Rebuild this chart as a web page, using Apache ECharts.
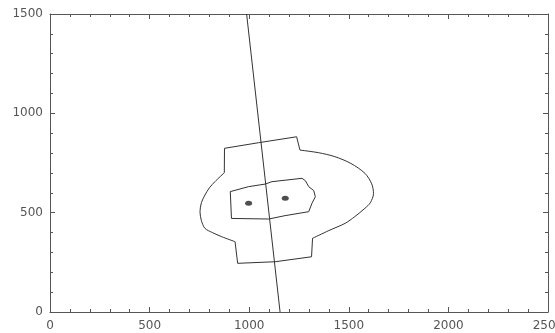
<!DOCTYPE html>
<html>
<head>
<meta charset="utf-8">
<script src="https://cdn.jsdelivr.net/npm/echarts@6/dist/echarts.min.js"></script>
<style>
html,body{margin:0;padding:0;background:#fff;}
#c{width:555px;height:333px;filter:blur(0.5px);}
</style>
</head>
<body>
<div id="c"></div>
<script>
// Axis ranges / ticks
var xTicks = [0, 500, 1000, 1500, 2000, 2500];
var yTicks = [0, 500, 1000, 1500];

// Straight cut line
var cutLine = [[987, 1500], [1155, 0]];

// Outer contour: stepped parts and elliptical arcs
var outerTopStep = [[875, 701], [876, 824], [1046, 852], [1238, 882], [1255, 815]];
var outerRightArc = [[1255, 815], [1347, 802], [1430, 782], [1510, 748], [1581, 698], [1615, 645], [1624, 596], [1608, 550], [1581, 522], [1530, 480], [1481, 446], [1400, 410], [1318, 371]];
var outerBottomStep = [[1318, 371], [1313, 278], [1130, 253], [942, 245], [929, 354]];
var outerLeftArc = [[929, 354], [862, 379], [815, 400], [778, 421], [760, 460], [753, 505], [760, 550], [778, 589], [800, 625], [828, 656], [875, 701]];

// Inner contour
var innerContour = [[905, 606], [997, 631], [1081, 644], [1114, 656], [1265, 673], [1282, 661], [1299, 631], [1324, 611], [1332, 580], [1315, 547], [1299, 505], [1290, 497], [1180, 485], [1098, 468], [911, 471], [905, 606]];

// Peaks
var peaks = [[997, 547], [1181, 572]];

var lineColor = '#333';
function lineSeries(data, smooth) {
  return {
    type: 'line', data: data, smooth: smooth, showSymbol: false, symbol: 'none',
    lineStyle: {color: lineColor, width: 1}, silent: true, animation: false, z: 3
  };
}
var axisCommon = {
  type: 'value', min: 0, interval: 500,
  axisLine: {show: true, onZero: false, lineStyle: {color: '#555', width: 1}},
  axisTick: {show: true, inside: true, length: 5, lineStyle: {color: '#555'}},
  minorTick: {show: true, splitNumber: 5, length: 3, lineStyle: {color: '#555'}},
  splitLine: {show: false},
  minorSplitLine: {show: false}
};
var chart = echarts.init(document.getElementById('c'), null, {renderer: 'canvas'});
chart.setOption({
  backgroundColor: '#fff',
  animation: false,
  grid: {left: 50, right: 7, top: 14, bottom: 21, containLabel: false, outerBoundsMode: 'none'},
  xAxis: [
    Object.assign({}, axisCommon, {
      max: xTicks[xTicks.length - 1], position: 'bottom',
      axisLabel: {show: true, color: '#555', fontSize: 12, fontFamily: 'DejaVu Sans', margin: 8,
        alignMaxLabel: 'center', alignMinLabel: 'center',
        formatter: function (v) { return xTicks.indexOf(v) >= 0 ? String(v) : ''; }}
    }),
    Object.assign({}, axisCommon, {
      max: xTicks[xTicks.length - 1], position: 'top', axisLabel: {show: false}
    })
  ],
  yAxis: [
    Object.assign({}, axisCommon, {
      max: yTicks[yTicks.length - 1], position: 'left',
      axisLabel: {show: true, color: '#555', fontSize: 12, fontFamily: 'DejaVu Sans', margin: 7,
        formatter: function (v) { return yTicks.indexOf(v) >= 0 ? String(v) : ''; }}
    }),
    Object.assign({}, axisCommon, {
      max: yTicks[yTicks.length - 1], position: 'right', axisLabel: {show: false}
    })
  ],
  series: [
    lineSeries(cutLine, false),
    lineSeries(outerTopStep, false),
    lineSeries(outerRightArc, 0.3),
    lineSeries(outerBottomStep, false),
    lineSeries(outerLeftArc, 0.3),
    lineSeries(innerContour, false),
    {
      type: 'scatter', data: peaks, symbol: 'circle', symbolSize: [7, 5],
      itemStyle: {color: '#222'}, silent: true, animation: false, z: 4
    }
  ]
});
</script>
</body>
</html>
